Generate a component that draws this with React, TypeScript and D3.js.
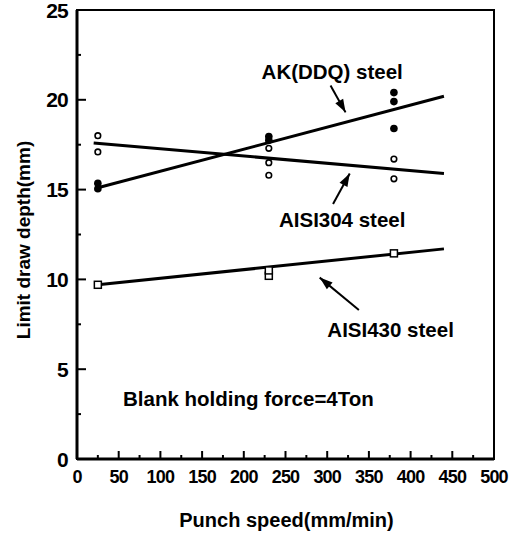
import React from "react";
import * as d3 from "d3";

// AK(DDQ) steel — filled circles (punch speed mm/min, depth mm)
const akX = [25, 25, 230, 230, 380, 380, 380];
const akY = [15.05, 15.35, 17.75, 17.95, 18.4, 19.9, 20.4];

// AISI304 steel — open circles
const s304X = [25, 25, 230, 230, 230, 380, 380];
const s304Y = [17.1, 18.0, 15.8, 16.5, 17.3, 15.6, 16.7];

// AISI430 steel — open squares
const s430X = [25, 230, 230, 380];
const s430Y = [9.7, 10.2, 10.5, 11.45];

// Fitted trend lines: [x0, x1] and [y0, y1]
const akFitX = [25, 440];
const akFitY = [15.1, 20.2];
const s304FitX = [20, 440];
const s304FitY = [17.6, 15.9];
const s430FitX = [25, 440];
const s430FitY = [9.7, 11.7];

const xTicks = [0, 50, 100, 150, 200, 250, 300, 350, 400, 450, 500];
const yTicks = [0, 5, 10, 15, 20, 25];

const W = 519;
const H = 534;
const FONT = "'Liberation Sans', Arial, Helvetica, sans-serif";

export default function App() {
  const x = d3.scaleLinear().domain([0, 500]).range([77, 494]);
  const y = d3.scaleLinear().domain([0, 25]).range([459, 10]);

  const line = d3
    .line<[number, number]>()
    .x((d) => x(d[0]))
    .y((d) => y(d[1]));

  const fits = [
    [akFitX, akFitY],
    [s304FitX, s304FitY],
    [s430FitX, s430FitY],
  ].map(([xs, ys]) => xs.map((v, i) => [v, ys[i]] as [number, number]));

  const minorX = d3.range(25, 500, 50);
  const minorY = d3.range(2.5, 25, 5);

  // arrows in data units: from -> tip
  const arrows = [
    { from: [304, 20.8], to: [322, 19.3] },
    { from: [307, 14.2], to: [327, 15.9] },
    { from: [338, 8.3], to: [291, 10.1] },
  ];

  const arrowHead = (fx: number, fy: number, tx: number, ty: number) => {
    const ang = Math.atan2(ty - fy, tx - fx);
    const len = 13;
    const half = 4.5;
    const bx = tx - len * Math.cos(ang);
    const by = ty - len * Math.sin(ang);
    const px = -Math.sin(ang) * half;
    const py = Math.cos(ang) * half;
    return `M${tx},${ty}L${bx + px},${by + py}L${bx - px},${by - py}Z`;
  };

  // label anchor points (data units, text baseline)
  const labels = [
    { text: "AK(DDQ) steel", x: 306, y: 21.16, anchor: "middle" },
    { text: "AISI304 steel", x: 318, y: 12.92, anchor: "middle" },
    { text: "AISI430 steel", x: 376, y: 6.79, anchor: "middle" },
    { text: "Blank holding force=4Ton", x: 55.2, y: 2.95, anchor: "start" },
  ];

  return (
    <svg
      width={W}
      height={H}
      style={{ position: "absolute", left: 0, top: 0, background: "#fff" }}
      fontFamily={FONT}
    >
      {/* frame */}
      <rect
        x={x(0)}
        y={y(25)}
        width={x(500) - x(0)}
        height={y(0) - y(25)}
        fill="none"
        stroke="#000"
        strokeWidth={2}
      />
      <line x1={x(0)} x2={x(0)} y1={y(25)} y2={y(0)} stroke="#000" strokeWidth={3} />
      <line x1={x(0)} x2={x(500)} y1={y(0)} y2={y(0)} stroke="#000" strokeWidth={3} />

      {/* ticks, pointing inward */}
      {xTicks.slice(1, -1).map((t) => (
        <line key={"xt" + t} x1={x(t)} x2={x(t)} y1={y(0)} y2={y(0) - 8} stroke="#000" strokeWidth={2} />
      ))}
      {minorX.map((t) => (
        <line key={"xm" + t} x1={x(t)} x2={x(t)} y1={y(0)} y2={y(0) - 4} stroke="#000" strokeWidth={2} />
      ))}
      {yTicks.slice(1, -1).map((t) => (
        <line key={"yt" + t} x1={x(0)} x2={x(0) + 9} y1={y(t)} y2={y(t)} stroke="#000" strokeWidth={2} />
      ))}
      {minorY.map((t) => (
        <line key={"ym" + t} x1={x(0)} x2={x(0) + 4} y1={y(t)} y2={y(t)} stroke="#000" strokeWidth={2} />
      ))}

      {/* tick labels */}
      {xTicks.map((t) => (
        <text
          key={"xl" + t}
          x={x(t)}
          y={y(0) + 24}
          textAnchor="middle"
          fontSize={18}
          fontWeight="bold"
          letterSpacing={-0.8}
        >
          {t}
        </text>
      ))}
      {yTicks.map((t) => (
        <text
          key={"yl" + t}
          x={x(0) - 9}
          y={y(t)}
          dy="0.36em"
          textAnchor="end"
          fontSize={21}
          fontWeight="bold"
          letterSpacing={-0.8}
        >
          {t}
        </text>
      ))}

      {/* axis titles */}
      <text x={286.5} y={527} textAnchor="middle" fontSize={20} fontWeight="bold">
        Punch speed(mm/min)
      </text>
      <text
        transform="translate(30,240) rotate(-90)"
        textAnchor="middle"
        fontSize={19}
        fontWeight="bold"
      >
        Limit draw depth(mm)
      </text>

      {/* fitted lines */}
      {fits.map((pts, i) => (
        <path key={"fit" + i} d={line(pts) || ""} fill="none" stroke="#000" strokeWidth={3} />
      ))}

      {/* AK(DDQ) filled circles */}
      {akX.map((v, i) => (
        <circle key={"ak" + i} cx={x(v)} cy={y(akY[i])} r={3.8} fill="#000" />
      ))}
      {/* AISI304 open circles */}
      {s304X.map((v, i) => (
        <circle key={"s304" + i} cx={x(v)} cy={y(s304Y[i])} r={2.8} fill="#fff" stroke="#000" strokeWidth={1.6} />
      ))}
      {/* AISI430 open squares */}
      {s430X.map((v, i) => (
        <rect
          key={"s430" + i}
          x={x(v) - 3.5}
          y={y(s430Y[i]) - 3.5}
          width={7}
          height={7}
          fill="#fff"
          stroke="#000"
          strokeWidth={1.5}
        />
      ))}

      {/* annotation arrows */}
      {arrows.map((a, i) => {
        const fx = x(a.from[0]);
        const fy = y(a.from[1]);
        const tx = x(a.to[0]);
        const ty = y(a.to[1]);
        return (
          <g key={"arr" + i}>
            <line x1={fx} y1={fy} x2={tx} y2={ty} stroke="#000" strokeWidth={2} />
            <path d={arrowHead(fx, fy, tx, ty)} fill="#000" />
          </g>
        );
      })}

      {/* annotation labels */}
      {labels.map((l, i) => (
        <text
          key={"lab" + i}
          x={x(l.x)}
          y={y(l.y)}
          textAnchor={l.anchor}
          fontSize={20.5}
          fontWeight="bold"
        >
          {l.text}
        </text>
      ))}
    </svg>
  );
}
